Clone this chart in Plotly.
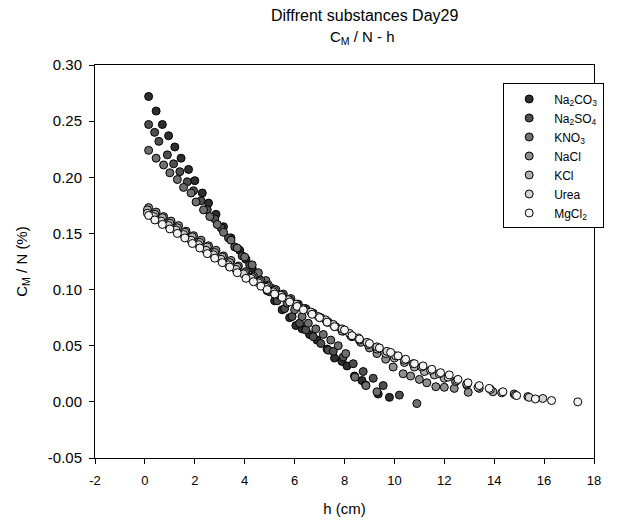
import plotly.graph_objects as go

names = ["Na<sub>2</sub>CO<sub>3</sub>", "Na<sub>2</sub>SO<sub>4</sub>", "KNO<sub>3</sub>", "NaCl", "KCl", "Urea", "MgCl<sub>2</sub>"]

na2co3_x = [0.15, 0.45, 0.7, 0.95, 1.2, 1.45, 1.75, 2.0, 2.3, 2.55, 2.85, 3.15, 3.45, 3.8, 4.05, 4.3, 4.6, 4.9, 5.2, 5.5, 5.8, 6.05, 6.3, 6.6, 6.9, 7.3, 7.6, 7.9, 8.1, 8.4, 8.7, 8.85, 9.35, 9.8]
na2co3_y = [0.272, 0.259, 0.247, 0.237, 0.227, 0.217, 0.207, 0.197, 0.186, 0.177, 0.167, 0.156, 0.146, 0.135, 0.127, 0.119, 0.109, 0.099, 0.090, 0.082, 0.075, 0.068, 0.065, 0.060, 0.055, 0.047, 0.039, 0.036, 0.032, 0.023, 0.019, 0.015, 0.007, 0.004]

na2so4_x = [0.15, 0.39, 0.56, 0.9, 1.15, 1.4, 1.7, 1.95, 2.25, 2.5, 2.8, 3.05, 3.35, 3.6, 3.9, 4.2, 4.45, 4.75, 5.0, 5.3, 5.6, 5.9, 6.2, 6.45, 6.75, 7.05, 7.35, 7.55, 7.95, 8.35, 8.75, 9.15, 9.55, 10.2]
na2so4_y = [0.247, 0.240, 0.232, 0.220, 0.212, 0.205, 0.196, 0.188, 0.179, 0.171, 0.163, 0.155, 0.146, 0.138, 0.130, 0.122, 0.114, 0.106, 0.098, 0.090, 0.083, 0.076, 0.070, 0.064, 0.058, 0.052, 0.046, 0.045, 0.040, 0.034, 0.027, 0.021, 0.0145, 0.006]

kno3_x = [0.15, 0.45, 0.75, 1.0, 1.3, 1.55, 1.85, 2.05, 2.35, 2.6, 2.9, 3.15, 3.45, 3.7, 4.0, 4.3, 4.55, 4.85, 5.1, 5.4, 5.7, 6.0, 6.3, 6.55, 6.85, 7.15, 7.45, 7.75, 8.05, 8.42, 8.86, 9.3, 10.9]
kno3_y = [0.224, 0.217, 0.211, 0.204, 0.198, 0.191, 0.186, 0.178, 0.171, 0.165, 0.158, 0.151, 0.144, 0.137, 0.129, 0.122, 0.115, 0.108, 0.101, 0.095, 0.088, 0.082, 0.076, 0.070, 0.065, 0.060, 0.055, 0.050, 0.043, 0.022, 0.0145, 0.009, -0.0015]

nacl_x = [0.15, 0.45, 0.75, 1.05, 1.35, 1.65, 1.95, 2.25, 2.55, 2.85, 3.15, 3.45, 3.75, 4.05, 4.35, 4.65, 4.95, 5.25, 5.55, 5.85, 6.15, 6.45, 6.75, 7.05, 7.35, 7.65, 7.95, 8.3, 8.65, 9.0, 9.3, 9.65, 9.95, 10.35, 10.65, 11.0, 11.3, 11.66, 12.0, 12.4, 12.96]
nacl_y = [0.173, 0.169, 0.165, 0.161, 0.157, 0.152, 0.148, 0.144, 0.139, 0.135, 0.130, 0.126, 0.121, 0.116, 0.112, 0.108, 0.104, 0.100, 0.096, 0.092, 0.087, 0.083, 0.079, 0.075, 0.071, 0.067, 0.063, 0.058, 0.053, 0.048, 0.043, 0.038, 0.031, 0.025, 0.023, 0.020, 0.017, 0.0135, 0.013, 0.012, 0.0085]

kcl_x = [0.1, 0.4, 0.7, 1.0, 1.3, 1.6, 1.9, 2.2, 2.5, 2.8, 3.1, 3.4, 3.7, 4.0, 4.3, 4.6, 4.9, 5.2, 5.5, 5.8, 6.1, 6.4, 6.7, 7.0, 7.3, 7.6, 7.9, 8.25, 8.6, 8.95, 9.3, 9.65, 10.0, 10.4, 10.8, 11.2, 11.6, 12.0, 12.45, 12.9, 13.4, 13.95, 14.8, 15.35]
kcl_y = [0.171, 0.167, 0.164, 0.159, 0.155, 0.151, 0.147, 0.142, 0.138, 0.133, 0.129, 0.124, 0.120, 0.115, 0.111, 0.107, 0.103, 0.099, 0.095, 0.091, 0.087, 0.083, 0.079, 0.075, 0.071, 0.067, 0.063, 0.059, 0.055, 0.051, 0.047, 0.043, 0.039, 0.035, 0.031, 0.027, 0.024, 0.021, 0.018, 0.015, 0.012, 0.009, 0.007, 0.0047]

urea_x = [0.1, 0.35, 0.65, 0.95, 1.25, 1.55, 1.85, 2.15, 2.45, 2.75, 3.05, 3.35, 3.65, 3.95, 4.25, 4.55, 4.85, 5.15, 5.45, 5.75, 6.05, 6.35, 6.65, 6.95, 7.25, 7.55, 7.9, 8.2, 8.55, 8.9, 9.3, 9.7, 10.05, 10.4, 10.75, 11.1, 11.45, 11.8, 12.15, 12.5, 12.9, 13.35, 13.85, 14.3, 14.85, 15.4, 15.95]
urea_y = [0.168, 0.165, 0.161, 0.157, 0.153, 0.149, 0.144, 0.140, 0.135, 0.131, 0.127, 0.122, 0.118, 0.114, 0.110, 0.106, 0.102, 0.098, 0.095, 0.091, 0.087, 0.083, 0.080, 0.076, 0.073, 0.069, 0.065, 0.061, 0.057, 0.053, 0.049, 0.045, 0.041, 0.037, 0.034, 0.031, 0.028, 0.025, 0.022, 0.019, 0.016, 0.013, 0.011, 0.008, 0.006, 0.004, 0.003]

mgcl2_x = [0.15, 0.4, 0.7, 1.0, 1.3, 1.6, 1.9, 2.2, 2.5, 2.8, 3.1, 3.4, 3.7, 4.05, 4.35, 4.65, 4.9, 5.2, 5.5, 5.8, 6.1, 6.35, 6.7, 7.0, 7.3, 7.6, 8.0, 8.3, 8.6, 9.0, 9.4, 9.85, 10.15, 10.45, 10.8, 11.15, 11.5, 11.85, 12.2, 12.55, 12.95, 13.4, 13.8, 14.35, 14.9, 15.65, 16.3, 17.35]
mgcl2_y = [0.166, 0.162, 0.158, 0.154, 0.150, 0.146, 0.141, 0.137, 0.132, 0.128, 0.124, 0.120, 0.115, 0.110, 0.107, 0.103, 0.100, 0.096, 0.093, 0.089, 0.085, 0.082, 0.078, 0.075, 0.071, 0.067, 0.064, 0.059, 0.056, 0.052, 0.048, 0.044, 0.041, 0.038, 0.034, 0.032, 0.029, 0.026, 0.024, 0.020, 0.017, 0.0145, 0.012, 0.009, 0.0056, 0.0026, 0.0012, 0.0]

x_ticks = [-2, 0, 2, 4, 6, 8, 10, 12, 14, 16, 18]
x_ticktext = ["-2", "0", "2", "4", "6", "8", "10", "12", "14", "16", "18"]
y_ticks = [-0.05, 0.0, 0.05, 0.10, 0.15, 0.20, 0.25, 0.30]
y_ticktext = ["-0.05", "0.00", "0.05", "0.10", "0.15", "0.20", "0.25", "0.30"]

title_line1 = "Diffrent substances Day29"
title_line2 = "C<sub>M</sub> / N - h"

xs = [na2co3_x, na2so4_x, kno3_x, nacl_x, kcl_x, urea_x, mgcl2_x]
ys = [na2co3_y, na2so4_y, kno3_y, nacl_y, kcl_y, urea_y, mgcl2_y]
colors = ["#2e2e2e", "#4f4f4f", "#707070", "#8f8f8f", "#b0b0b0", "#d2d2d2", "#f3f3f3"]

fig = go.Figure()
for n, x, y, c in zip(names, xs, ys, colors):
    fig.add_trace(go.Scatter(x=x, y=y, mode="markers", name=n,
                             marker=dict(size=8, color=c, line=dict(color="black", width=1))))

font = "Liberation Sans, Arial, sans-serif"
fig.update_layout(
    width=635, height=518,
    margin=dict(l=87, r=49, t=57, b=63),
    paper_bgcolor="white", plot_bgcolor="white",
    font=dict(family=font, size=13, color="black"),
    showlegend=True,
    legend=dict(x=0.818, y=0.953, xanchor="left", yanchor="top", bgcolor="white",
                bordercolor="black", borderwidth=1, font=dict(size=12), tracegroupgap=0,
                itemwidth=40),
    annotations=[
        dict(text=title_line1, xref="paper", yref="paper", x=0.54, y=1.127, xanchor="center",
             yanchor="middle", showarrow=False, font=dict(size=16)),
        dict(text=title_line2, xref="paper", yref="paper", x=0.537, y=1.071, xanchor="center",
             yanchor="middle", showarrow=False, font=dict(size=15)),
    ],
)
fig.update_xaxes(range=[-2, 18], tickmode="array", tickvals=x_ticks, ticktext=x_ticktext,
                 showline=True, linecolor="black", linewidth=1, tickfont=dict(size=13),
                 ticklabelstandoff=5,
                 mirror=True, ticks="outside", ticklen=5, tickcolor="black", showgrid=False, zeroline=False,
                 title=dict(text="h (cm)", font=dict(size=15), standoff=16))
fig.update_yaxes(range=[-0.05, 0.30], tickmode="array", tickvals=y_ticks, ticktext=y_ticktext,
                 showline=True, linecolor="black", tickfont=dict(size=15),
                 ticklabelstandoff=4,
                 linewidth=1, mirror=True, ticks="outside", ticklen=5, tickcolor="black", showgrid=False,
                 zeroline=False, title=dict(text="C<sub>M</sub> / N (%)", font=dict(size=15), standoff=16))

fig.write_html("out.html")
